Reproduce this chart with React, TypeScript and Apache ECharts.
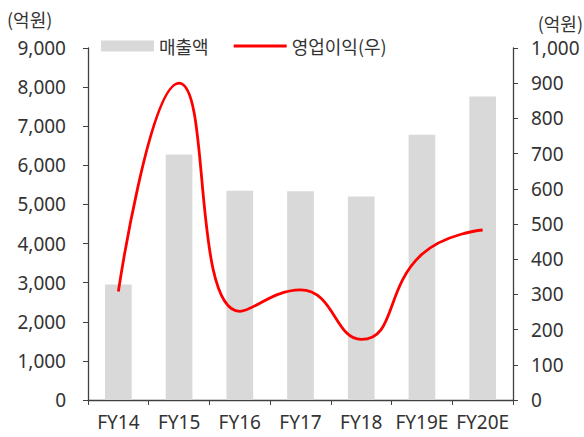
import React, { useEffect, useRef } from "react";
import * as echarts from "echarts";

const categories = ["FY14", "FY15", "FY16", "FY17", "FY18", "FY19E", "FY20E"];
const salesValues = [2950, 6280, 5350, 5340, 5200, 6780, 7760];
const opProfitValues = [308, 900, 252, 313, 172, 414, 483];
const leftTicks = { min: 0, max: 9000, interval: 1000 };
const rightTicks = { min: 0, max: 1000, interval: 100 };

const NUMFONT = "'Noto Sans', 'Noto Sans CJK KR', sans-serif";
const KRFONT = "'Noto Sans CJK KR', 'Noto Sans', sans-serif";
const TXT = "#333333";
const AX = "#404040";

export default function App() {
  const ref = useRef<HTMLDivElement>(null);
  useEffect(() => {
    const chart = echarts.init(ref.current!, null, { renderer: "svg" });
    chart.setOption({
      animation: false,
      textStyle: { fontFamily: NUMFONT, color: TXT },
      grid: { left: 88, right: 71, top: 48, bottom: 37 },
      legend: {
        left: 101,
        top: 37,
        padding: 0,
        itemWidth: 53,
        itemHeight: 11,
        itemGap: 25,
        symbolKeepAspect: true,
        textStyle: { fontSize: 18, color: TXT, fontFamily: KRFONT },
        data: [
          { name: "매출액", icon: "rect" },
          { name: "영업이익(우)", icon: "path://M0,0H51V3H0Z" },
        ],
      },
      graphic: [
        { type: "text", left: 7, top: 10, style: { text: "(억원)", fontSize: 18, fill: TXT, fontFamily: KRFONT } },
        { type: "text", right: 1, top: 14, style: { text: "(억원)", fontSize: 18, fill: TXT, fontFamily: KRFONT } },
      ],
      xAxis: {
        type: "category",
        data: categories,
        boundaryGap: true,
        axisLine: { lineStyle: { color: AX, width: 1.3 } },
        axisTick: { show: true, length: 5, lineStyle: { color: AX } },
        axisLabel: { interval: 0, fontSize: 19, color: TXT, margin: 12, fontFamily: NUMFONT },
      },
      yAxis: [
        {
          type: "value",
          ...leftTicks,
          position: "left",
          splitLine: { show: false },
          axisLine: { show: true, lineStyle: { color: AX, width: 1.3 } },
          axisTick: { show: true, length: 5, lineStyle: { color: AX } },
          axisLabel: {
            fontSize: 19,
            color: TXT,
            margin: 22,
            fontFamily: NUMFONT,
            formatter: (v: number) => v.toLocaleString("en-US"),
          },
        },
        {
          type: "value",
          ...rightTicks,
          position: "right",
          splitLine: { show: false },
          axisLine: { show: true, lineStyle: { color: AX, width: 1.3 } },
          axisTick: { show: true, length: 5, lineStyle: { color: AX } },
          axisLabel: {
            fontSize: 19,
            color: TXT,
            margin: 18,
            fontFamily: NUMFONT,
            formatter: (v: number) => v.toLocaleString("en-US"),
          },
        },
      ],
      series: [
        {
          name: "매출액",
          type: "bar",
          data: salesValues,
          barWidth: "44%",
          itemStyle: { color: "#D9D9D9" },
          yAxisIndex: 0,
        },
        {
          name: "영업이익(우)",
          type: "line",
          data: opProfitValues,
          yAxisIndex: 1,
          smooth: 0.5,
          symbol: "none",
          lineStyle: { color: "#FF0000", width: 2.8 },
          itemStyle: { color: "#FF0000" },
        },
      ],
    });
    return () => chart.dispose();
  }, []);
  return <div ref={ref} style={{ width: 584, height: 437, position: "absolute", left: 0, top: 0 }} />;
}
